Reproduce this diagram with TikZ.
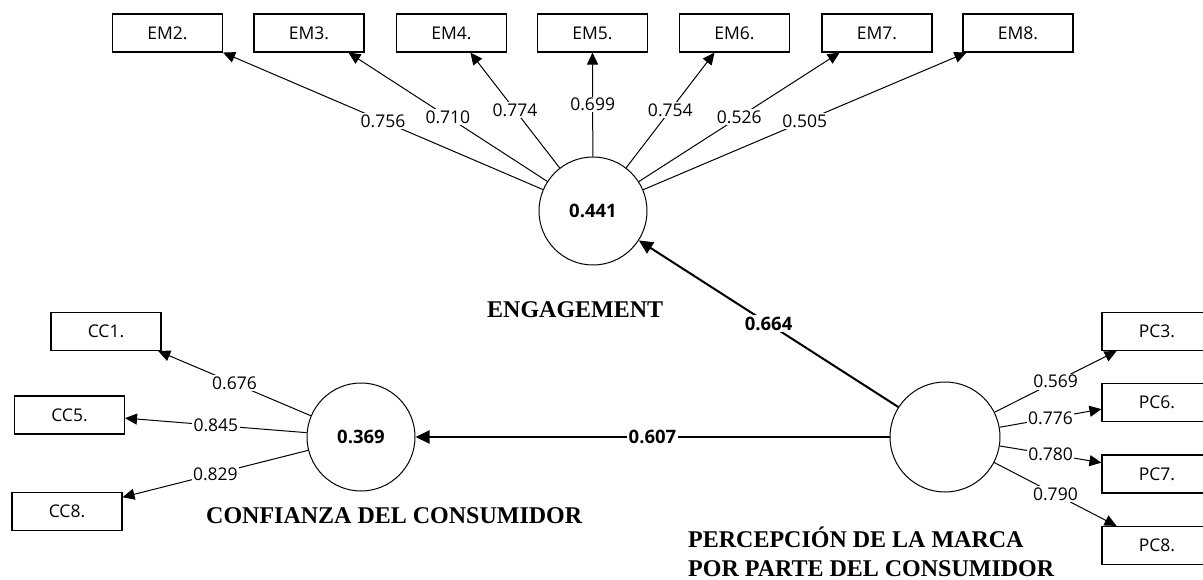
\documentclass[tikz,border=0pt]{standalone}
\usepackage{fontspec}
\setmainfont{Liberation Serif}
\newfontfamily\plsfont{Open Sans}
\usetikzlibrary{arrows.meta,calc}
\begin{document}
\begin{tikzpicture}[x=1pt,y=-1pt,
  indicator/.style={draw, line width=1.1pt, minimum width=110pt, minimum height=38pt,
    inner sep=0pt, font=\plsfont\fontsize{17.5}{17.5}\selectfont},
  construct/.style={draw, circle, line width=1pt, inner sep=0pt,
    font=\plsfont\bfseries\fontsize{18.5}{18.5}\selectfont},
  loading/.style={line width=1pt, -{Triangle[length=12pt,width=11pt]}},
  structural/.style={line width=2pt, -{Triangle[length=14pt,width=13pt]}},
  lval/.style={fill=white, inner sep=1.5pt, font=\plsfont\fontsize{17.5}{17.5}\selectfont},
  pval/.style={fill=white, inner sep=1.5pt, font=\plsfont\bfseries\fontsize{18.5}{18.5}\selectfont},
  cname/.style={font=\bfseries\fontsize{24}{24}\selectfont, inner sep=0pt, anchor=base west}]
\useasboundingbox (0,0) rectangle (1203,580);
\clip (0,0) rectangle (1203,580);

% latent constructs
\node[construct, minimum size=108pt] (eng) at (593,211) {0.441};
\node[construct, minimum size=108pt] (cc)  at (361,437) {0.369};
\node[construct, minimum size=110pt] (pc)  at (945,437) {};

% indicators of ENGAGEMENT
\node[indicator] (em2) at (167.5,33) {EM2.};
\node[indicator] (em3) at (309,33)   {EM3.};
\node[indicator] (em4) at (451.5,33) {EM4.};
\node[indicator] (em5) at (592.5,33) {EM5.};
\node[indicator] (em6) at (734.5,33) {EM6.};
\node[indicator] (em7) at (877,33)   {EM7.};
\node[indicator] (em8) at (1018,33)  {EM8.};

% indicators of CONFIANZA DEL CONSUMIDOR
\node[indicator] (cc1) at (106,331.5) {CC1.};
\node[indicator] (cc5) at (69.5,415)  {CC5.};
\node[indicator] (cc8) at (67,511.5)  {CC8.};

% indicators of PERCEPCION DE LA MARCA
\node[indicator] (pc3) at (1157,331.5) {PC3.};
\node[indicator] (pc6) at (1157,402.5) {PC6.};
\node[indicator] (pc7) at (1157,474)   {PC7.};
\node[indicator] (pc8) at (1157,545.5) {PC8.};

% outer loadings
\draw[loading] (eng) -- ($(em2.south west)!1!(em2.south east)$) node[lval,pos=0.5] {0.756};
\draw[loading] (eng) -- ($(em3.south west)!0.855!(em3.south east)$) node[lval,pos=0.5] {0.710};
\draw[loading] (eng) -- ($(em4.south west)!0.67!(em4.south east)$) node[lval,pos=0.5] {0.774};
\draw[loading] (eng) -- ($(em5.south west)!0.5!(em5.south east)$) node[lval,pos=0.5] {0.699};
\draw[loading] (eng) -- ($(em6.south west)!0.32!(em6.south east)$) node[lval,pos=0.5] {0.754};
\draw[loading] (eng) -- ($(em7.south west)!0.164!(em7.south east)$) node[lval,pos=0.5] {0.526};
\draw[loading] (eng) -- ($(em8.south west)!0.036!(em8.south east)$) node[lval,pos=0.5] {0.505};

\draw[loading] (cc) -- ($(cc1.south west)!0.97!(cc1.south east)$) node[lval,pos=0.5] {0.676};
\draw[loading] (cc) -- ($(cc5.north east)!0.58!(cc5.south east)$) node[lval,pos=0.5] {0.845};
\draw[loading] (cc) -- ($(cc8.north east)!0.135!(cc8.south east)$) node[lval,pos=0.5] {0.829};

\draw[loading] (pc) -- ($(pc3.south west)!0.136!(pc3.south east)$) node[lval,pos=0.5] {0.569};
\draw[loading] (pc) -- ($(pc6.north west)!0.67!(pc6.south west)$) node[lval,pos=0.5] {0.776};
\draw[loading] (pc) -- ($(pc7.north west)!0.21!(pc7.south west)$) node[lval,pos=0.5] {0.780};
\draw[loading] (pc) -- ($(pc8.north west)!0.136!(pc8.north east)$) node[lval,pos=0.5] {0.790};

% path coefficients
\draw[structural] (pc) -- (eng) node[pval,pos=0.5] {0.664};
\draw[structural] (pc) -- (cc)  node[pval,pos=0.5] {0.607};

% construct names
\node[cname] (engname)  at (487,318) {ENGAGEMENT};
\node[cname] (ccname)   at (206,523) {CONFIANZA DEL CONSUMIDOR};
\node[cname] (pcname1)  at (688,547) {PERCEPCIÓN DE LA MARCA};
\node[cname] (pcname2)  at (688,576.5) {POR PARTE DEL CONSUMIDOR};
\end{tikzpicture}
\end{document}
